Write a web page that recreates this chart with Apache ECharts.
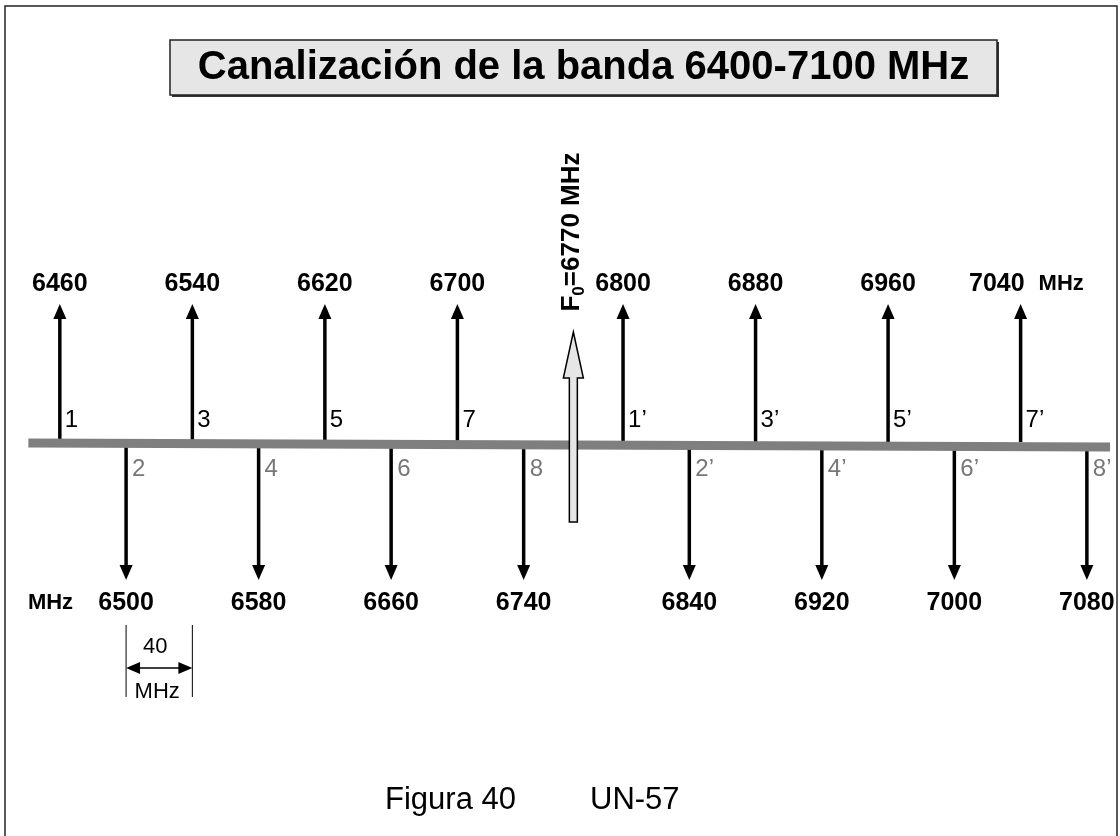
<!DOCTYPE html>
<html><head><meta charset="utf-8">
<script src="https://cdn.jsdelivr.net/npm/echarts@6/dist/echarts.min.js"></script>
<style>html,body{margin:0;padding:0;background:#fff}#c{width:1120px;height:836px}</style>
</head><body><div id="c"></div>
<script>
// ---------- data ----------
const upFreqs = [6460, 6540, 6620, 6700, 6800, 6880, 6960, 7040];
const upChannels = ['1', '3', '5', '7', '1’', '3’', '5’', '7’'];
const downFreqs = [6500, 6580, 6660, 6740, 6840, 6920, 7000, 7080];
const downChannels = ['2', '4', '6', '8', '2’', '4’', '6’', '8’'];
const centerFreq = 6770;
const bandDrawn = [6441, 7094];
const spacingMark = [6500, 6540];
const spacingText = ['40', 'MHz'];
const unitText = 'MHz';
const titleText = 'Canalización de la banda 6400-7100 MHz';
const footerTexts = ['Figura 40', 'UN-57'];

// ---------- styles ----------
const FONT = '"Liberation Sans", Arial, sans-serif';
const BASE_TILT_L = 1, BASE_TILT_R = 5;

function upItem(params, api) {
  const f = api.value(0);
  const tip = api.coord([f, 1]);
  const base = api.coord([f, 0]);
  const x = tip[0];
  const i = params.dataIndex;
  const last = i === upFreqs.length - 1;
  const children = [
    {type: 'line', shape: {x1: x, y1: base[1], x2: x, y2: tip[1] + 13}, style: {stroke: '#000', lineWidth: 3.5}},
    {type: 'polygon', shape: {points: [[x, tip[1]], [x - 6.5, tip[1] + 15], [x + 6.5, tip[1] + 15]]}, style: {fill: '#000'}},
    {type: 'text', x: last ? x + 4 : x, y: tip[1] - 20, style: {text: String(f), fill: '#000', font: 'bold 25px ' + FONT, align: last ? 'right' : 'center', verticalAlign: 'middle'}},
    {type: 'text', x: x + 5, y: base[1] - 22, style: {text: upChannels[i], fill: '#000', font: '24px ' + FONT, align: 'left', verticalAlign: 'middle'}}
  ];
  if (last) {
    children.push({type: 'text', x: x + 18, y: tip[1] - 20, style: {text: unitText, fill: '#000', font: 'bold 22px ' + FONT, align: 'left', verticalAlign: 'middle'}});
  }
  return {type: 'group', children: children};
}

function downItem(params, api) {
  const f = api.value(0);
  const tip = api.coord([f, -1]);
  const base = api.coord([f, 0]);
  const x = tip[0];
  const i = params.dataIndex;
  const children = [
    {type: 'line', shape: {x1: x, y1: base[1] + 4, x2: x, y2: tip[1] - 13}, style: {stroke: '#000', lineWidth: 3.5}},
    {type: 'polygon', shape: {points: [[x, tip[1]], [x - 6.5, tip[1] - 15], [x + 6.5, tip[1] - 15]]}, style: {fill: '#000'}},
    {type: 'text', x: x, y: tip[1] + 23, style: {text: String(f), fill: '#000', font: 'bold 25px ' + FONT, align: 'center', verticalAlign: 'middle'}},
    {type: 'text', x: x + 6, y: base[1] + 27, style: {text: downChannels[i], fill: '#777', font: '24px ' + FONT, align: 'left', verticalAlign: 'middle'}}
  ];
  if (i === 0) {
    children.push({type: 'text', x: x - 53, y: tip[1] + 23, style: {text: unitText, fill: '#000', font: 'bold 22px ' + FONT, align: 'right', verticalAlign: 'middle'}});
  }
  return {type: 'group', children: children};
}

function baselineItem(params, api) {
  const a = api.coord([api.value(0), 0]);
  const b = api.coord([api.value(1), 0]);
  return {type: 'line', shape: {x1: a[0], y1: a[1] + BASE_TILT_L, x2: b[0], y2: b[1] + BASE_TILT_R}, style: {stroke: '#7f7f7f', lineWidth: 9}};
}

function centerItem(params, api) {
  const f = api.value(0);
  const p = api.coord([f, 0]);
  const x = p[0], b = p[1];
  const tipY = b - 110, headY = b - 64, botY = b + 80;
  return {type: 'group', children: [
    {type: 'polygon', shape: {points: [[x, tipY], [x + 10, headY], [x + 4, headY], [x + 4, botY], [x - 4, botY], [x - 4, headY], [x - 10, headY]]},
     style: {fill: '#e6e6e6', stroke: '#000', lineWidth: 1.5}},
    {type: 'text', x: x - 2, y: b - 210, rotation: Math.PI / 2,
     style: {text: '{f|F}{s|0}{f|=' + f + ' MHz}', align: 'center', verticalAlign: 'middle', fill: '#000',
       rich: {
         f: {fontFamily: FONT, fontWeight: 'bold', fontSize: 26, lineHeight: 32, fill: '#000'},
         s: {fontFamily: FONT, fontWeight: 'bold', fontSize: 17, lineHeight: 15, verticalAlign: 'bottom', fill: '#000'}
       }}}
  ]};
}

function spacingItem(params, api) {
  const a = api.coord([api.value(0), 0]);
  const b = api.coord([api.value(1), 0]);
  const base = a[1];
  const y1 = base + 183, y2 = base + 255, ya = base + 226;
  const xa = a[0], xb = b[0], xm = (xa + xb) / 2;
  return {type: 'group', children: [
    {type: 'line', shape: {x1: xa, y1: y1, x2: xa, y2: y2}, style: {stroke: '#000', lineWidth: 1}},
    {type: 'line', shape: {x1: xb, y1: y1, x2: xb, y2: y2}, style: {stroke: '#000', lineWidth: 1}},
    {type: 'line', shape: {x1: xa + 10, y1: ya, x2: xb - 10, y2: ya}, style: {stroke: '#000', lineWidth: 1.5}},
    {type: 'polygon', shape: {points: [[xa, ya], [xa + 14, ya - 6], [xa + 14, ya + 6]]}, style: {fill: '#000'}},
    {type: 'polygon', shape: {points: [[xb, ya], [xb - 14, ya - 6], [xb - 14, ya + 6]]}, style: {fill: '#000'}},
    {type: 'text', x: xm - 4, y: base + 205, style: {text: spacingText[0], fill: '#000', font: '22px ' + FONT, align: 'center', verticalAlign: 'middle'}},
    {type: 'text', x: xm - 2, y: base + 250, style: {text: spacingText[1], fill: '#000', font: '22px ' + FONT, align: 'center', verticalAlign: 'middle'}}
  ]};
}

const chart = echarts.init(document.getElementById('c'), null, {renderer: 'canvas'});
chart.setOption({
  animation: false,
  backgroundColor: '#fff',
  grid: {left: 26.7, width: 1097.6, top: 304, height: 276, containLabel: false},
  xAxis: {type: 'value', min: 6440, max: 7100, show: false},
  yAxis: {type: 'value', min: -1, max: 1, show: false},
  graphic: [
    {type: 'rect', shape: {x: 5, y: 6, width: 1112, height: 840}, style: {fill: 'none', stroke: '#222', lineWidth: 1.5}, z: 0},
    {type: 'rect', shape: {x: 172, y: 42, width: 827, height: 55}, style: {fill: '#333'}, z: 1},
    {type: 'rect', shape: {x: 170, y: 40, width: 827, height: 55}, style: {fill: '#e6e6e6', stroke: '#222', lineWidth: 1.5}, z: 2},
    {type: 'text', x: 583.5, y: 68, style: {text: titleText, font: 'bold 40px ' + FONT, fill: '#000', align: 'center', verticalAlign: 'middle'}, z: 3},
    {type: 'text', x: 385, y: 800, style: {text: footerTexts[0], font: '31px ' + FONT, fill: '#000', align: 'left', verticalAlign: 'middle'}, z: 3},
    {type: 'text', x: 590, y: 800, style: {text: footerTexts[1], font: '31px ' + FONT, fill: '#000', align: 'left', verticalAlign: 'middle'}, z: 3}
  ],
  series: [
    {type: 'custom', renderItem: upItem, data: upFreqs.map(f => [f]), z: 2, silent: true},
    {type: 'custom', renderItem: downItem, data: downFreqs.map(f => [f]), z: 2, silent: true},
    {type: 'custom', renderItem: baselineItem, data: [bandDrawn], z: 3, silent: true},
    {type: 'custom', renderItem: centerItem, data: [[centerFreq]], z: 4, silent: true},
    {type: 'custom', renderItem: spacingItem, data: [spacingMark], z: 2, silent: true}
  ]
});
</script></body></html>
